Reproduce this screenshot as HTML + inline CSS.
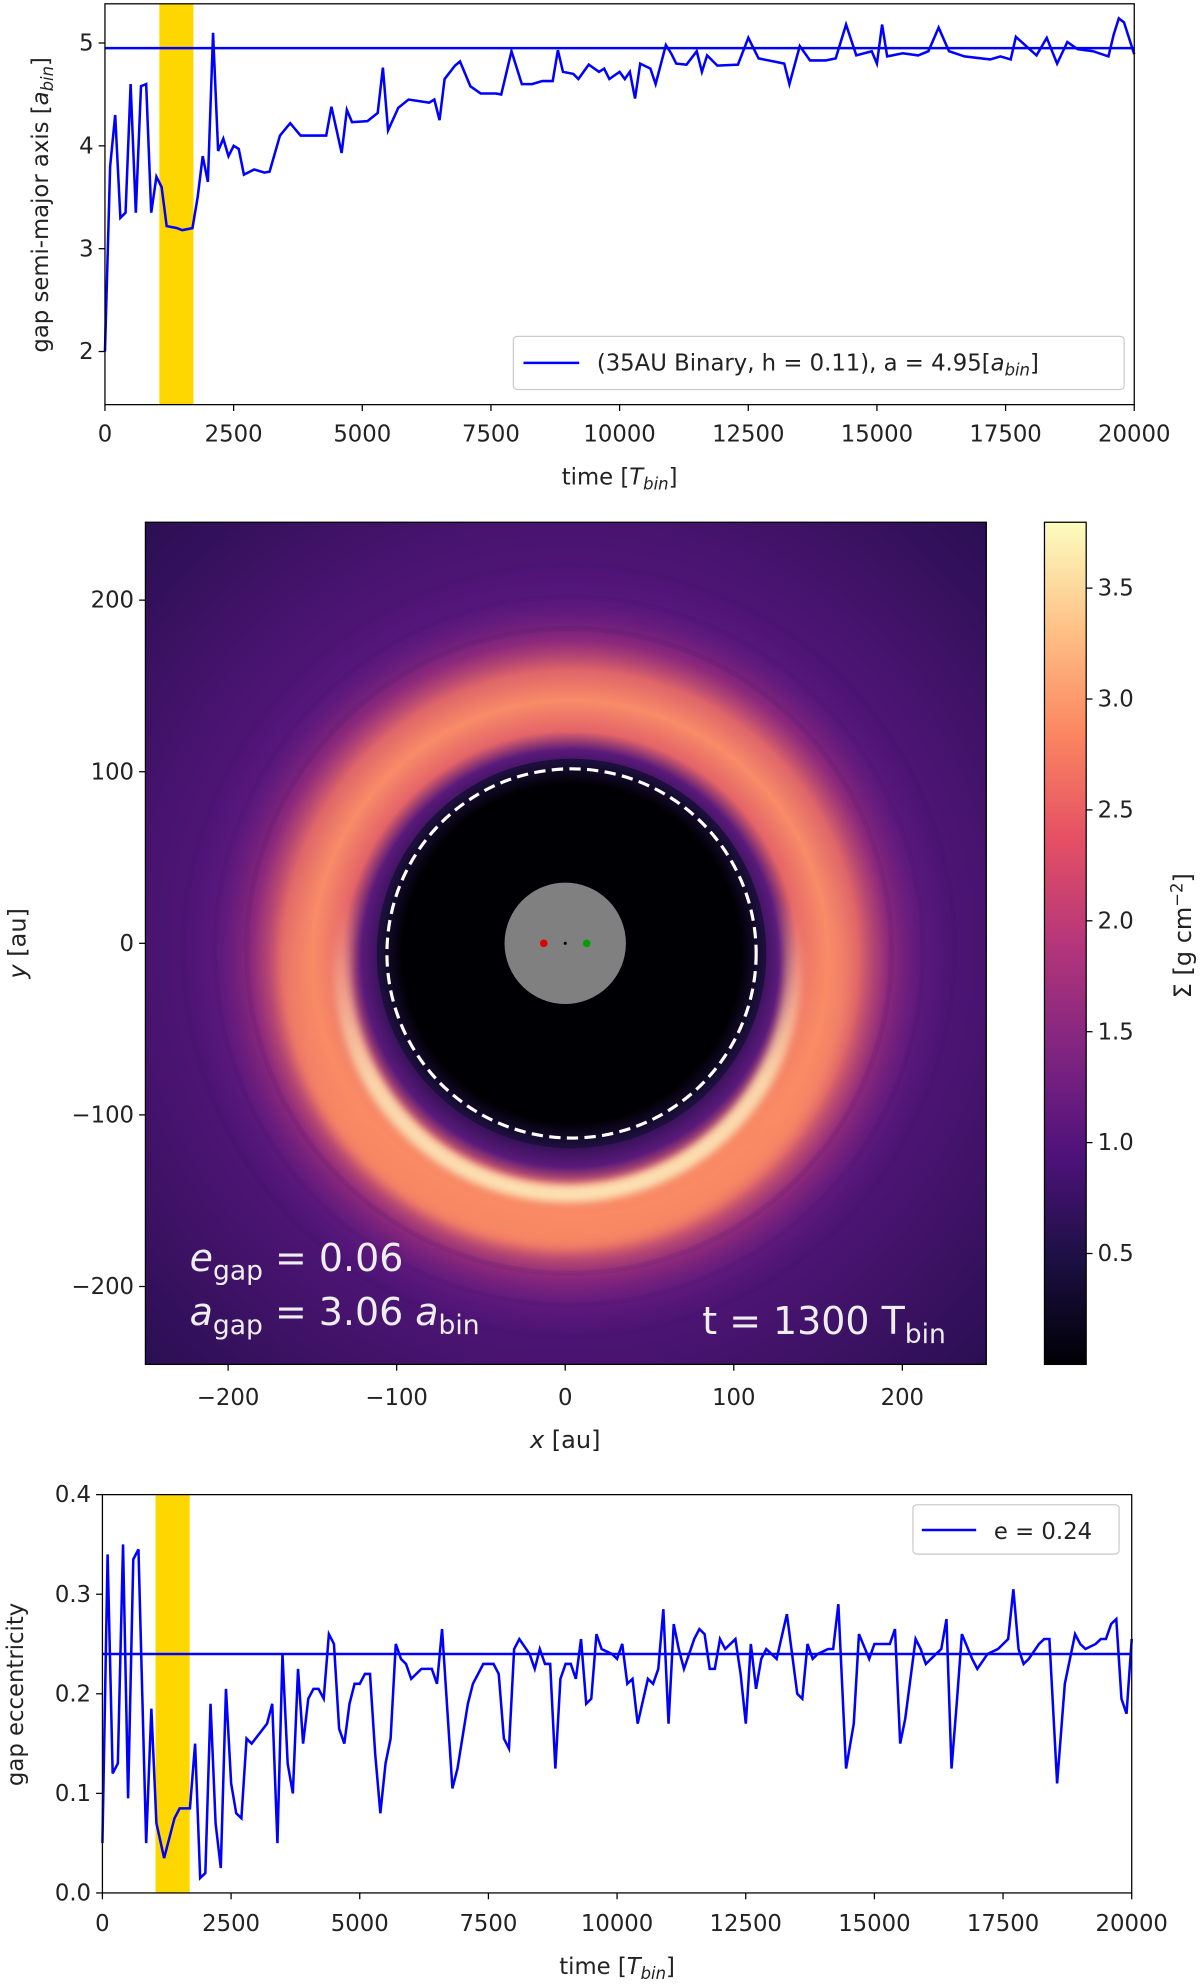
<!DOCTYPE html>
<html><head><meta charset="utf-8"><style>
html,body{margin:0;padding:0;background:#fff}
svg{display:block}
text{font-family:"DejaVu Sans","Liberation Sans",sans-serif;fill:#222}
</style></head><body>
<svg id="fig" width="1200" height="1984" viewBox="0 0 949 1569" xmlns="http://www.w3.org/2000/svg">
<defs>
<linearGradient id="magma" x1="0" y1="1" x2="0" y2="0">
<stop offset="0" stop-color="#000004"/><stop offset="0.125" stop-color="#1c1044"/>
<stop offset="0.25" stop-color="#4f127b"/><stop offset="0.375" stop-color="#812581"/>
<stop offset="0.5" stop-color="#b5367a"/><stop offset="0.625" stop-color="#e55064"/>
<stop offset="0.75" stop-color="#fb8761"/><stop offset="0.875" stop-color="#fec287"/>
<stop offset="1" stop-color="#fcfdbf"/></linearGradient>
<radialGradient id="bg" gradientUnits="userSpaceOnUse" cx="447" cy="746" r="470">
<stop offset="0" stop-color="#5a1880"/><stop offset="0.6" stop-color="#521579"/><stop offset="1" stop-color="#2a0f52"/></radialGradient>
<radialGradient id="ring" gradientUnits="userSpaceOnUse" cx="451" cy="758" r="300">
<stop offset="0.48" stop-color="#2a0d4e" stop-opacity="1"/>
<stop offset="0.55" stop-color="#5a1a7a" stop-opacity="1"/>
<stop offset="0.6" stop-color="#e46468" stop-opacity="1"/>
<stop offset="0.68" stop-color="#f88c68" stop-opacity="1"/>
<stop offset="0.76" stop-color="#e66a68" stop-opacity="0.95"/>
<stop offset="0.84" stop-color="#a5317c" stop-opacity="0.7"/>
<stop offset="0.93" stop-color="#6e1f80" stop-opacity="0.35"/>
<stop offset="1" stop-color="#5a1880" stop-opacity="0"/></radialGradient>
<linearGradient id="lowfade" x1="0" y1="0" x2="0" y2="1">
<stop offset="0.35" stop-color="#fde6b5" stop-opacity="0"/>
<stop offset="0.75" stop-color="#fde6b5" stop-opacity="0.85"/>
<stop offset="1" stop-color="#fde6b5" stop-opacity="0.95"/></linearGradient>
<linearGradient id="lowfade2" x1="0" y1="0" x2="0" y2="1">
<stop offset="0.3" stop-color="#f98a64" stop-opacity="0"/>
<stop offset="0.8" stop-color="#f98a64" stop-opacity="0.9"/></linearGradient>
<filter id="blur6"><feGaussianBlur stdDeviation="5"/></filter>
<filter id="blur3"><feGaussianBlur stdDeviation="3"/></filter>
<radialGradient id="hole" gradientUnits="userSpaceOnUse" cx="452" cy="754" r="152">
<stop offset="0.88" stop-color="#000004"/><stop offset="1" stop-color="#1c0f3c"/></radialGradient>
<clipPath id="imgclip"><rect x="115" y="413" width="665" height="666"/></clipPath>
</defs>

<!-- top plot -->
<g>
<rect x="126" y="3" width="27" height="317" fill="#ffd700"/>
<g id="topTicks"></g>
<line id="topMean" stroke="#0000ff" stroke-width="2"/>
<path id="topLine" fill="none" stroke="#0000ff" stroke-width="2"/>
<rect x="83" y="3" width="814" height="317" fill="none" stroke="#000" stroke-width="1"/>
<g>
<rect x="406" y="266" width="483" height="42" rx="3" fill="#fff" fill-opacity="0.85" stroke="#ccc"/>
<line x1="414" y1="287" x2="458" y2="287" stroke="#0000ff" stroke-width="2"/>
<text x="472" y="293" font-size="18">(35AU Binary, h = 0.11), a = 4.95[<tspan font-style="italic">a</tspan><tspan font-style="italic" font-size="13" dy="4">bin</tspan><tspan dy="-4">]</tspan></text>
</g>
<text x="490" y="383" font-size="18" text-anchor="middle">time [<tspan font-style="italic">T</tspan><tspan font-style="italic" font-size="13" dy="4">bin</tspan><tspan dy="-4">]</tspan></text>
<text transform="translate(38,162) rotate(-90)" font-size="18" text-anchor="middle">gap semi-major axis [<tspan font-style="italic">a</tspan><tspan font-style="italic" font-size="13" dy="4">bin</tspan><tspan dy="-4">]</tspan></text>
</g>

<!-- middle image -->
<g>
<g clip-path="url(#imgclip)">
<rect x="115" y="413" width="665" height="666" fill="url(#bg)"/>
<circle cx="451" cy="758" r="300" fill="url(#ring)"/>
<circle cx="447" cy="762" r="205" fill="none" stroke="url(#lowfade2)" stroke-width="40" filter="url(#blur6)"/>
<circle cx="449" cy="766" r="178" fill="none" stroke="url(#lowfade)" stroke-width="14" filter="url(#blur3)"/>
<g fill="none" stroke="#3a0f60" stroke-opacity="0.12" stroke-width="4">
<circle cx="450" cy="752" r="255"/><circle cx="450" cy="752" r="280"/><circle cx="450" cy="752" r="305"/>
</g>
<circle cx="452" cy="754" r="154" fill="url(#hole)"/>
<circle cx="452" cy="754" r="146" fill="none" stroke="#fff" stroke-width="2.5" stroke-dasharray="9,5"/>
<circle cx="447" cy="746" r="48" fill="#808080"/>
<circle cx="430" cy="746" r="3" fill="#e00000"/>
<circle cx="464" cy="746" r="3" fill="#00a000"/>
<circle cx="447" cy="746" r="1.2" fill="#000"/>
</g>
<rect x="115" y="413" width="665" height="666" fill="none" stroke="#000" stroke-width="1"/>
<g id="midTicks"></g>
<text x="150" y="1005" font-size="30" style="fill:#eee"><tspan font-style="italic">e</tspan><tspan font-size="21" dy="7">gap</tspan><tspan dy="-7"> = 0.06</tspan></text>
<text x="150" y="1048" font-size="30" style="fill:#eee"><tspan font-style="italic">a</tspan><tspan font-size="21" dy="7">gap</tspan><tspan dy="-7"> = 3.06 </tspan><tspan font-style="italic">a</tspan><tspan font-size="21" dy="7">bin</tspan></text>
<text x="748" y="1055" font-size="30" text-anchor="end" style="fill:#eee">t = 1300 T<tspan font-size="21" dy="7">bin</tspan></text>
<text x="447" y="1145" font-size="19" text-anchor="middle"><tspan font-style="italic">x</tspan> [au]</text>
<text transform="translate(20,746) rotate(-90)" font-size="19" text-anchor="middle"><tspan font-style="italic">y</tspan> [au]</text>
<rect x="826" y="413" width="33" height="666" fill="url(#magma)" stroke="#000" stroke-width="1"/>
<g id="cbTicks"></g>
<text transform="translate(942,740) rotate(-90)" font-size="19" text-anchor="middle">Σ [g cm<tspan font-size="13" dy="-7">−2</tspan><tspan dy="7">]</tspan></text>
</g>

<!-- bottom plot -->
<g>
<rect x="123" y="1182" width="27" height="315" fill="#ffd700"/>
<g id="botTicks"></g>
<line id="botMean" stroke="#0000ff" stroke-width="2"/>
<path id="botLine" fill="none" stroke="#0000ff" stroke-width="2"/>
<rect x="81" y="1182" width="814" height="315" fill="none" stroke="#000" stroke-width="1"/>
<g>
<rect x="722" y="1190" width="163" height="39" rx="3" fill="#fff" fill-opacity="0.85" stroke="#ccc"/>
<line x1="729" y1="1210" x2="772" y2="1210" stroke="#0000ff" stroke-width="2"/>
<text x="786" y="1217" font-size="18">e = 0.24</text>
</g>
<text x="488" y="1561" font-size="18" text-anchor="middle">time [<tspan font-style="italic">T</tspan><tspan font-style="italic" font-size="13" dy="4">bin</tspan><tspan dy="-4">]</tspan></text>
<text transform="translate(18,1340) rotate(-90)" font-size="18" text-anchor="middle">gap eccentricity</text>
</g>
</svg>
<script>
const topT=[0,100,200,300,400,500,600,700,800,900,1000,1100,1200,1400,1500,1700,1800,1900,2000,2100,2200,2300,2400,2500,2600,2700,2900,3100,3200,3400,3600,3800,4000,4300,4400,4600,4700,4800,5100,5300,5400,5500,5700,5900,6300,6400,6500,6600,6800,6900,7100,7300,7600,7700,7900,8100,8300,8500,8700,8800,8900,9100,9200,9400,9600,9700,9800,10000,10100,10200,10300,10400,10600,10700,10900,11000,11100,11300,11500,11600,11700,11900,12300,12500,12700,13000,13200,13300,13500,13700,14000,14200,14400,14600,14900,15000,15100,15200,15500,15800,16000,16200,16400,16700,17200,17400,17600,17700,17900,18100,18300,18500,18700,18900,19200,19500,19600,19700,19800,20000];
const topA=[2.0,3.8,4.3,3.3,3.35,4.6,3.35,4.58,4.6,3.35,3.7,3.6,3.22,3.2,3.18,3.2,3.5,3.9,3.65,5.1,3.95,4.07,3.9,4.0,3.97,3.72,3.77,3.74,3.75,4.1,4.22,4.1,4.1,4.1,4.38,3.93,4.35,4.23,4.24,4.32,4.76,4.15,4.37,4.45,4.42,4.45,4.25,4.65,4.78,4.82,4.58,4.51,4.51,4.5,4.92,4.6,4.6,4.63,4.63,4.93,4.72,4.7,4.65,4.79,4.72,4.75,4.65,4.72,4.65,4.72,4.46,4.8,4.75,4.6,4.98,4.9,4.8,4.79,4.92,4.72,4.88,4.78,4.79,5.05,4.85,4.82,4.8,4.6,4.97,4.83,4.83,4.85,5.18,4.88,4.92,4.8,5.18,4.87,4.9,4.88,4.92,5.15,4.92,4.87,4.84,4.87,4.84,5.06,4.97,4.88,5.05,4.8,5.01,4.94,4.92,4.87,5.08,5.24,5.2,4.89];
const topMeanVal=4.95;
const botT=[0,100,200,300,400,500,600,700,850,950,1050,1200,1400,1500,1700,1800,1900,2000,2100,2200,2300,2400,2500,2600,2700,2800,2900,3200,3300,3400,3500,3600,3700,3800,3900,4000,4100,4200,4300,4400,4500,4600,4700,4800,4900,5000,5100,5200,5300,5400,5500,5600,5700,5800,5900,6000,6200,6400,6500,6600,6800,6900,7100,7200,7400,7600,7700,7800,7900,8000,8100,8300,8400,8500,8600,8700,8800,8900,9000,9100,9200,9300,9400,9500,9600,9700,9900,10000,10100,10200,10300,10400,10600,10700,10800,10900,11000,11100,11200,11300,11400,11500,11600,11700,11800,11900,12000,12100,12300,12400,12500,12600,12700,12800,12900,13100,13300,13500,13600,13700,13800,13900,14100,14200,14300,14450,14600,14700,14900,15000,15100,15300,15400,15500,15600,15800,15900,16000,16200,16300,16400,16500,16600,16700,16900,17000,17200,17400,17500,17600,17700,17800,17900,18000,18200,18300,18400,18550,18700,18900,19000,19100,19300,19400,19500,19600,19700,19800,19900,20000];
const botE=[0.05,0.34,0.12,0.13,0.35,0.095,0.335,0.345,0.05,0.185,0.07,0.035,0.075,0.085,0.085,0.15,0.015,0.02,0.19,0.07,0.025,0.205,0.11,0.08,0.075,0.155,0.15,0.17,0.19,0.05,0.24,0.13,0.10,0.225,0.15,0.195,0.205,0.205,0.195,0.26,0.25,0.165,0.15,0.19,0.21,0.21,0.22,0.22,0.14,0.08,0.13,0.155,0.25,0.235,0.23,0.215,0.225,0.225,0.21,0.265,0.105,0.125,0.19,0.21,0.23,0.23,0.22,0.155,0.145,0.245,0.255,0.24,0.225,0.245,0.23,0.23,0.125,0.215,0.23,0.23,0.215,0.255,0.19,0.195,0.26,0.245,0.24,0.235,0.25,0.21,0.215,0.17,0.215,0.21,0.225,0.285,0.17,0.27,0.245,0.225,0.24,0.255,0.265,0.26,0.225,0.225,0.255,0.245,0.255,0.22,0.17,0.25,0.205,0.235,0.245,0.235,0.28,0.2,0.195,0.25,0.235,0.24,0.245,0.245,0.29,0.125,0.17,0.26,0.235,0.25,0.25,0.25,0.265,0.15,0.175,0.255,0.245,0.23,0.24,0.245,0.275,0.125,0.19,0.26,0.235,0.225,0.24,0.245,0.25,0.255,0.305,0.245,0.23,0.235,0.25,0.255,0.255,0.11,0.21,0.26,0.25,0.245,0.25,0.255,0.255,0.27,0.275,0.195,0.18,0.255];
const botMeanVal=0.24;
const timeTicks=[0,2500,5000,7500,10000,12500,15000,17500,20000];
const topYTicks=[2,3,4,5];
const botYTicks=[0.0,0.1,0.2,0.3,0.4];
const auTicks=[-200,-100,0,100,200];
const cbTicks=[0.5,1.0,1.5,2.0,2.5,3.0,3.5];

const NS='http://www.w3.org/2000/svg';
function mk(tag,attrs,parent,txt){const e=document.createElementNS(NS,tag);for(const k in attrs)e.setAttribute(k,attrs[k]);if(txt!==undefined)e.textContent=txt;parent.appendChild(e);return e;}
const xTop=t=>83+t/20000*814, yTop=a=>34+(5-a)*81.33;
const xBot=t=>81+t/20000*814, yBot=e=>1497-e/0.4*315;
const xAu=v=>447+v*1.333, yAu=v=>746-v*1.357;
const yCb=v=>1079-v*175.4;

function ticks(g,xs,ys,xf,yf,xlab,ylab,x0,y0,dy){
  xs.forEach(t=>{const x=xf(t);
    const l=mk('line',{x1:x,x2:x,y1:y0,y2:y0+5,stroke:'#000'},g);
    
    
    const tx=mk('text',{x:x,y:y0+dy,'font-size':18,'text-anchor':'middle'},g,xlab(t));
    
    
  });
  ys.forEach(v=>{const y=yf(v);
    const l=mk('line',{x1:x0-5,x2:x0,y1:y,y2:y,stroke:'#000'},g);
    
    
    const tx=mk('text',{x:x0-9,y:y+6,'font-size':18,'text-anchor':'end'},g,ylab(v));
    
    
  });
}
ticks(document.getElementById('topTicks'),timeTicks,topYTicks,xTop,yTop,String,String,83,320,29);
ticks(document.getElementById('botTicks'),timeTicks,botYTicks,xBot,yBot,String,v=>v.toFixed(1),81,1497,30);
ticks(document.getElementById('midTicks'),auTicks,auTicks,xAu,yAu,v=>v<0?'−'+(-v):String(v),v=>v<0?'−'+(-v):String(v),115,1079,32);
const cg=document.getElementById('cbTicks');
cbTicks.forEach(v=>{const y=yCb(v);
  const l=mk('line',{x1:859,x2:864,y1:y,y2:y,stroke:'#000'},cg);
  
  
  const tx=mk('text',{x:868,y:y+6,'font-size':18},cg,v.toFixed(1));
  
  
});
function path(ts,vs,xf,yf){return ts.map((t,i)=>(i?'L':'M')+xf(t).toFixed(1)+','+yf(vs[i]).toFixed(1)).join('');}
document.getElementById('topLine').setAttribute('d',path(topT,topA,xTop,yTop));
document.getElementById('botLine').setAttribute('d',path(botT,botE,xBot,yBot));
const tm=document.getElementById('topMean');
tm.setAttribute('x1',xTop(0));tm.setAttribute('x2',xTop(20000));tm.setAttribute('y1',yTop(topMeanVal));tm.setAttribute('y2',yTop(topMeanVal));
const bm=document.getElementById('botMean');
bm.setAttribute('x1',xBot(0));bm.setAttribute('x2',xBot(20000));bm.setAttribute('y1',yBot(botMeanVal));bm.setAttribute('y2',yBot(botMeanVal));
</script>
</body></html>
